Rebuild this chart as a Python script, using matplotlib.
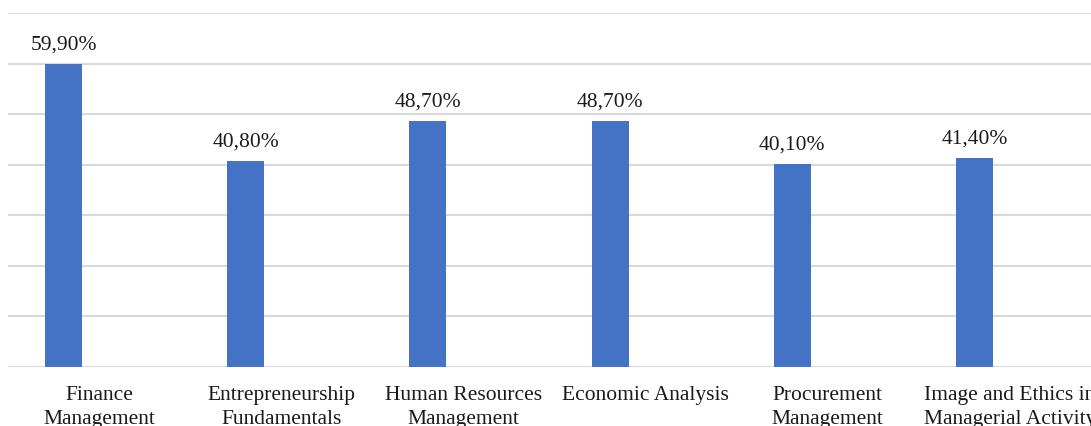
import matplotlib.pyplot as plt
import numpy as np

plt.rcParams['font.family'] = ['Liberation Serif', 'DejaVu Serif']

# share of respondents per subject
subjects = [
    'Finance\nManagement',
    'Entrepreneurship\nFundamentals',
    'Human Resources\nManagement',
    'Economic Analysis',
    'Procurement\nManagement',
    'Image and Ethics in\nManagerial Activity',
]
shares = [59.9, 40.8, 48.7, 48.7, 40.1, 41.4]

fig = plt.figure(figsize=(10.91, 4.27), dpi=100)
ax = fig.add_axes([8 / 1091, 59 / 427, 1093 / 1091, 354 / 427])

x = np.arange(len(subjects))
bars = ax.bar(x - 0.195, shares, width=0.203, color='#4472C4', zorder=3)

for rect, v in zip(bars, shares):
    ax.annotate(f'{v:.2f}%'.replace('.', ','),
                (rect.get_x() + rect.get_width() / 2, rect.get_height()),
                xytext=(0, 7.5), textcoords='offset points',
                ha='center', va='bottom', fontsize=15.5, color='#1a1a1a')

ax.set_xlim(-0.5, len(subjects) - 0.5)
ax.set_ylim(0, 70)
ax.set_yticks(np.arange(0, 71, 10))
ax.set_yticklabels([])
ax.set_xticks(x)
ax.set_xticklabels(subjects, fontsize=15.5, color='#1a1a1a', linespacing=1.33)
ax.tick_params(axis='both', length=0)
ax.tick_params(axis='x', pad=13)
ax.grid(axis='y', color='#d9d9d9', linewidth=1.5, zorder=0)
ax.set_axisbelow(True)
for s in ax.spines.values():
    s.set_visible(False)

fig.savefig('out.png', dpi=100)
